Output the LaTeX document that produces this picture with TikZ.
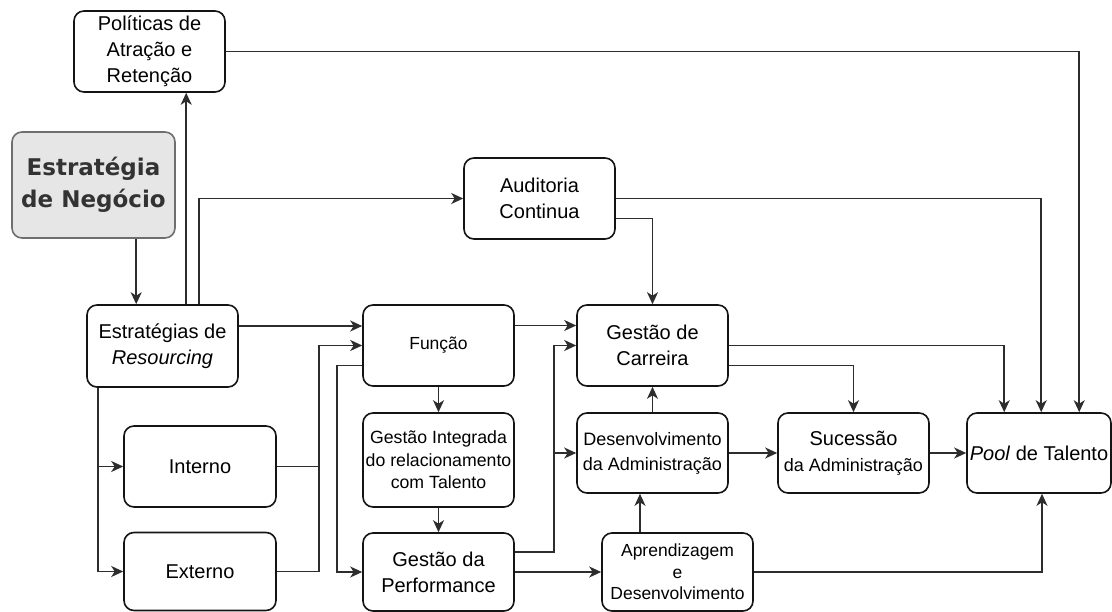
\documentclass[tikz,border=0pt]{standalone}
\usepackage{fontspec}
\setmainfont{Liberation Sans}
\newfontfamily\boldfam{DejaVu Sans}
\usetikzlibrary{arrows.meta,calc}
\definecolor{linec}{RGB}{45,45,45}
\definecolor{boxc}{RGB}{20,20,20}
\definecolor{negfill}{RGB}{230,230,230}
\definecolor{negborder}{RGB}{110,110,110}
\definecolor{negtext}{RGB}{51,51,51}
\tikzset{
  box/.style={draw=boxc, line width=1.6pt, rounded corners=10pt, fill=white,
    minimum width=151pt, minimum height=81pt, inner sep=0pt, align=center,
    text=black, font=\fontsize{20}{26}\selectfont},
  arr/.style={draw=linec, line width=1.6pt, -{Stealth[length=12pt,width=11pt,inset=3.5pt]}},
  ln/.style={draw=linec, line width=1.6pt}
}
\begin{document}
\begin{tikzpicture}[x=1pt,y=-1pt]
\useasboundingbox (0,0) rectangle (1112,612);
% nodes
\node[box] (pol) at (149.5,51.5) {Políticas de\\Atração e\\Retenção};
\node[box, fill=negfill, draw=negborder, minimum width=163pt, minimum height=106pt,
      text=negtext, font=\boldfam\bfseries\fontsize{23}{32}\selectfont] (neg) at (93.5,185) {Estratégia\\de Negócio};
\node[box, minimum height=82pt] (res) at (162.5,346) {Estratégias de\\\textit{Resourcing}};
\node[box, minimum width=152pt] (int) at (200,466.5) {Interno};
\node[box, minimum width=152pt, minimum height=78pt] (ext) at (200,571.5) {Externo};
\node[box] (aud) at (539.5,198.5) {Auditoria\\Continua};
\node[box, font=\fontsize{17.5}{22}\selectfont] (fun) at (438.5,345.5) {Função};
\node[box] (car) at (652.5,345.5) {Gestão de\\Carreira};
\node[box, minimum height=94pt, font=\fontsize{17.7}{22.5}\selectfont] (gir) at (438.5,460) {Gestão Integrada\\do relacionamento\\com Talento};
\node[box, minimum height=78pt] (per) at (438.5,572) {Gestão da\\Performance};
\node[box, minimum height=80pt, font=\fontsize{18}{25}\selectfont] (dev) at (652.5,453) {Desenvolvimento\\da Administração};
\node[box, minimum height=78pt, font=\fontsize{17.5}{21.5}\selectfont] (apr) at (677.5,572) {Aprendizagem\\e\\Desenvolvimento};
\node[box, minimum height=80pt] (suc) at (853.5,453) {Sucessão\\{\fontsize{18}{25}\selectfont da Administração}};
\node[box, minimum width=144pt, minimum height=80pt] (pool) at (1039,453) {\textit{Pool} de Talento};
% helper coordinates
\coordinate (jn) at ([xshift=42pt]int.east);
\coordinate (rn) at ([xshift=50pt]res.north west);
% connectors
\draw[arr] (neg.south -| rn) -- (rn);
\draw[arr] ([xshift=100pt]res.north west) -- ([xshift=100pt]res.north west |- pol.south);
\draw[arr] ([xshift=113pt]res.north west) |- (aud.west);
\draw[arr] (pol.east) -| ([xshift=113pt]pool.north west);
\draw[arr] (aud.east) -| ([xshift=75pt]pool.north west);
\draw[arr] ([yshift=-20pt]aud.east) -| (car.north);
\draw[arr] (car.east) -| ([xshift=38pt]pool.north west);
\draw[arr] ([yshift=-20pt]car.east) -| (suc.north);
\draw[arr] ([yshift=20pt]res.east) -- ([yshift=20pt]res.east -| fun.west);
\draw[arr] ([yshift=20pt]fun.east) -- ([yshift=20pt]fun.east -| car.west);
\draw[arr] (int.east) -- (jn) |- (fun.west);
\draw[ln] (ext.east) -| (jn);
\draw[arr] ([xshift=12pt]res.south west) |- (int.west);
\draw[arr] ([xshift=12pt]res.south west) |- (ext.west);
\draw[arr] ([yshift=-20pt]fun.west) -- ++(-25,0) |- (per.west);
\draw[arr] (fun.south) -- (gir.north);
\draw[arr] (gir.south) -- (per.north);
\draw[arr] ([yshift=20pt]per.east) -- ++(39,0) |- (car.west);
\draw[arr] ([yshift=20pt]per.east) -- ++(39,0) |- (dev.west);
\draw[arr] (per.east) -- (apr.west);
\draw[arr] ([xshift=-37.5pt]apr.north) -- ([xshift=-37.5pt]apr.north |- dev.south);
\draw[arr] (dev.north) -- (car.south);
\draw[arr] (dev.east) -- (suc.west);
\draw[arr] (suc.east) -- (pool.west);
\draw[arr] (apr.east) -| ([xshift=3pt]pool.south);
\end{tikzpicture}
\end{document}
